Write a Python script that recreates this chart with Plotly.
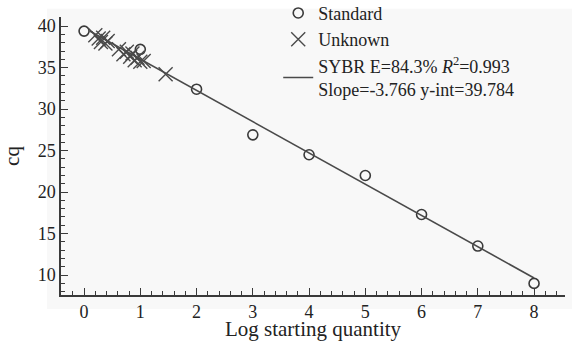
import plotly.graph_objects as go

std_x = [0, 1, 2, 3, 4, 5, 6, 7, 8]
std_y = [39.4, 37.2, 32.4, 26.9, 24.5, 22.0, 17.3, 13.5, 9.0]

unk_x = [0.2, 0.26, 0.3, 0.34, 0.38, 0.42, 0.62, 0.7, 0.76, 0.82, 0.86, 0.9, 0.95, 1.0, 1.06, 1.45]
unk_y = [38.9, 38.5, 38.1, 38.6, 37.9, 38.2, 37.2, 36.6, 36.9, 36.3, 36.7, 35.9, 36.2, 35.7, 35.8, 34.2]

slope = -3.766
intercept = 39.784
fit_x = [0.1, 8]
fit_y = [intercept + slope * v for v in fit_x]

font = "Liberation Serif"
ink = "#3a3a3a"

fig = go.Figure()
fig.add_trace(go.Scatter(
    x=std_x, y=std_y, mode="markers", name="Standard",
    marker=dict(symbol="circle-open", size=10, color=ink, line=dict(width=1.6))))
fig.add_trace(go.Scatter(
    x=unk_x, y=unk_y, mode="markers", name="Unknown",
    marker=dict(symbol="x-thin-open", size=14, color="#4a4a4a", line=dict(width=1.4))))
fig.add_trace(go.Scatter(
    x=fit_x, y=fit_y, mode="lines",
    name="SYBR E=84.3% <i>R</i><sup>2</sup>=0.993<br>Slope=-3.766 y-int=39.784",
    line=dict(color="#4a4a4a", width=1.6)))

axis_common = dict(
    showline=True, linecolor=ink, linewidth=1.5, ticks="inside", ticklen=7,
    tickwidth=1.3, tickcolor=ink, showgrid=False, zeroline=False, mirror=False,
    automargin=False,
    tickfont=dict(family=font, size=18, color="#222"),
)

fig.update_xaxes(
    range=[-0.41, 8.55], tickvals=list(range(0, 9)),
    minor=dict(dtick=0.2, tick0=0, ticks="inside", ticklen=4, tickwidth=1.1, tickcolor=ink),
    title=dict(text="Log starting quantity", font=dict(family=font, size=21, color="#222"), standoff=5),
    **axis_common)
fig.update_yaxes(
    range=[7.6, 41.1], tickvals=[10, 15, 20, 25, 30, 35, 40],
    minor=dict(dtick=1, tick0=0, ticks="inside", ticklen=4, tickwidth=1.1, tickcolor=ink),
    title=dict(text="cq", font=dict(family=font, size=21, color="#222"), standoff=12),
    **axis_common)

fig.update_layout(
    width=572, height=341,
    margin=dict(l=61, r=7, t=17, b=46, autoexpand=False),
    paper_bgcolor="white", plot_bgcolor="rgba(0,0,0,0)",
    legend=dict(x=0.431, y=1.08, xanchor="left", yanchor="top",
                font=dict(family=font, size=18, color="#222"),
                bgcolor="rgba(0,0,0,0)", tracegroupgap=0, itemwidth=30),
    shapes=[dict(type="rect", xref="paper", yref="paper", x0=-0.028, x1=1.02, y0=-0.05, y1=1.03,
                 fillcolor="#f8f8f8", line=dict(width=0), layer="below")],
)

fig.write_html("out.html", config={"displayModeBar": False},
               post_script="document.body.style.margin='0';")
